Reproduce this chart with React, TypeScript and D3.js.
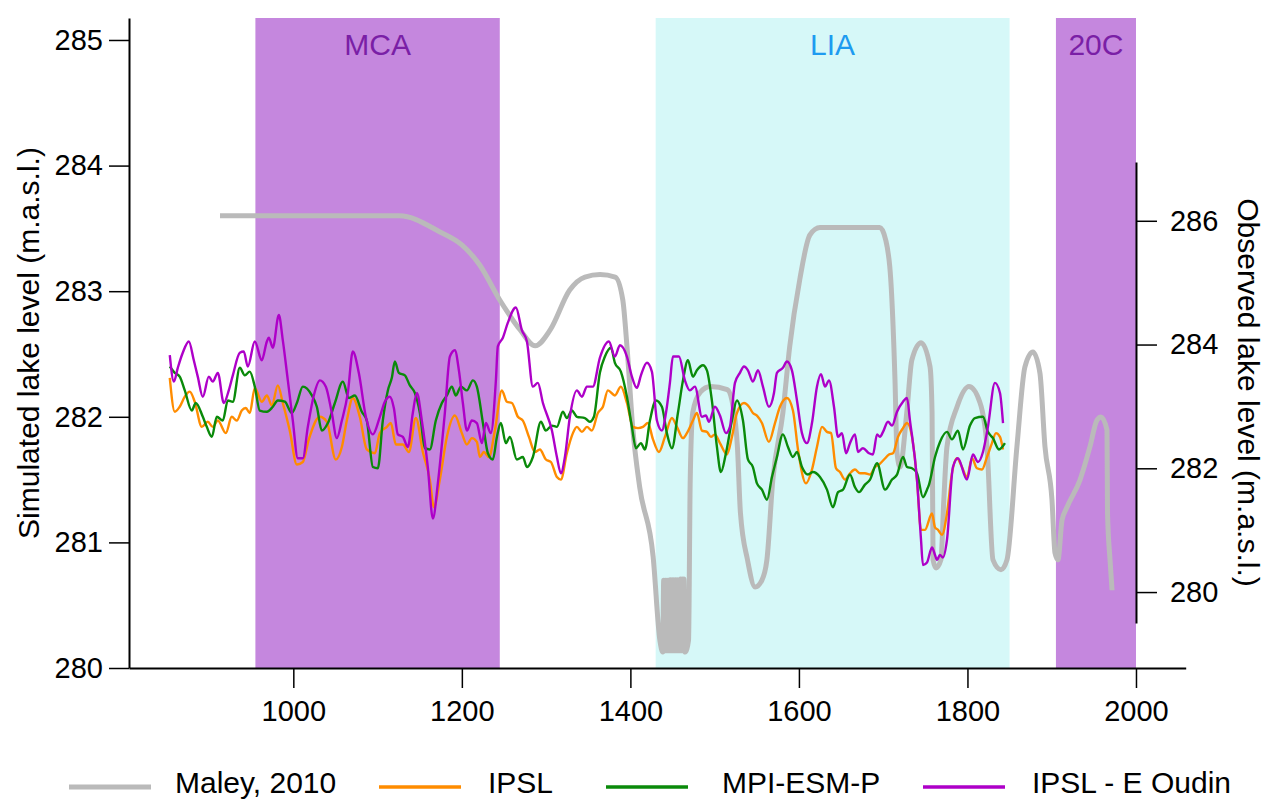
import React, { useEffect, useRef } from 'react';
import * as d3 from 'd3';

type P = [number, number];

// ---------- data ----------
const xTickValues = [1000, 1200, 1400, 1600, 1800, 2000];
const leftTickValues = [280, 281, 282, 283, 284, 285];
const rightTickValues = [280, 282, 284, 286];

const periodNames = ['MCA', 'LIA', '20C'];
const periodStarts = [955, 1430, 1905];
const periodEnds = [1245, 1850, 2000];

const seriesNames = ['Maley, 2010', 'IPSL', 'MPI-ESM-P', 'IPSL - E Oudin'];

// Observed lake level (right axis)
const maley: P[] = [
  [913, 286.08], [1126, 286.08], [1174, 285.82], [1200, 285.61], [1221, 285.29], [1245, 284.72],
  [1269, 284.24], [1287, 283.98], [1305, 284.24], [1328, 284.88], [1346, 285.09], [1364, 285.13],
  [1382, 285.09], [1391, 284.72], [1396, 283.96], [1403, 282.62], [1411, 281.7], [1427, 280.57],
  [1435, 279.22], [1438.5, 279.03],
  [1439.5, 280.19], [1440.5, 279.05], [1441.5, 280.19], [1442.5, 279.05], [1443.5, 280.19],
  [1444.5, 279.05], [1445.5, 280.19], [1446.5, 279.05], [1447.5, 280.2], [1448.5, 279.05],
  [1449.5, 280.2], [1450.5, 279.05], [1451.5, 280.2], [1452.5, 279.05], [1453.5, 280.2],
  [1454.5, 279.05], [1455.5, 280.2], [1456.5, 279.05], [1457.5, 280.2], [1458.5, 279.05],
  [1459.5, 280.21], [1460.5, 279.05], [1461.5, 280.21], [1462.5, 279.05], [1463.5, 280.21],
  [1465, 279.03], [1469, 279.22], [1471, 281.81], [1474, 282.9], [1483, 283.23], [1495, 283.32],
  [1515, 283.27], [1522, 282.99], [1527, 282.35], [1530.6, 281.28], [1539, 280.52], [1548, 280.08],
  [1556, 280.19], [1562, 280.52], [1569, 281.81], [1581, 282.9], [1589, 283.96], [1601, 285.05],
  [1613, 285.77], [1625, 285.89], [1696, 285.89], [1703, 285.69], [1709, 285.05], [1714, 283.43],
  [1716.4, 282.25], [1720, 282.02], [1728, 282.9], [1734, 283.75], [1745, 284.03], [1755.6, 283.64],
  [1758, 282.9], [1759.2, 280.52], [1762.7, 280.39], [1768.5, 280.52], [1772, 281.5], [1775.7, 282.35],
  [1787.6, 282.99], [1801.8, 283.32], [1814.9, 283.06], [1823.2, 282.35], [1830.3, 280.52],
  [1839.8, 280.36], [1846.9, 280.52], [1858.7, 282.35], [1868.2, 283.64], [1877.7, 283.88],
  [1886, 283.54], [1892, 282.35], [1900.3, 281.49], [1903.9, 280.63], [1907.4, 280.52],
  [1912.2, 281.16], [1918.1, 281.37], [1933.5, 281.81], [1945.4, 282.35], [1953.7, 282.78],
  [1958.5, 282.83], [1965.6, 282.62], [1966.2, 281.28], [1969.2, 280.52], [1971.6, 280.03],
];

// Simulated lake level (left axis)
const ipsl: P[] = [
  [853.4, 282.31], [859.3, 282.04], [865.2, 282.08], [871.2, 282.16], [877.1, 282.2], [883.0, 282.12],
  [891.4, 281.92], [898.5, 281.96], [904.4, 281.92], [910.4, 281.97], [919.9, 281.87], [926.9, 282.0],
  [932.9, 281.97], [938.8, 282.05], [943.6, 282.07], [948.3, 282.03], [954.3, 282.23], [962.6, 282.12],
  [968.6, 282.17], [974.5, 282.09], [981.6, 282.25], [987.5, 282.11], [995.8, 281.89], [1004.2, 281.62],
  [1011.3, 281.64], [1018.4, 281.82], [1031.5, 282.0], [1039.8, 281.96], [1050.4, 281.66], [1057.6, 281.76],
  [1063.5, 281.97], [1070.6, 282.15], [1078.9, 282.0], [1087.2, 281.74], [1096.7, 281.71], [1102.7, 281.87],
  [1111.0, 281.92], [1115.7, 281.95], [1121.7, 281.78], [1130.0, 281.78], [1137.1, 281.72], [1145.4, 281.99],
  [1153.7, 281.72], [1162.0, 281.5], [1166.8, 281.28], [1173.9, 281.5], [1182.2, 281.84], [1191.7, 282.01],
  [1200.0, 281.87], [1206.0, 281.78], [1211.9, 281.83], [1217.8, 281.8], [1221.4, 281.68], [1226.1, 281.72],
  [1232.1, 281.68], [1239.2, 281.89], [1247.5, 282.21], [1253.4, 282.12], [1259.4, 282.11], [1266.5, 282.0],
  [1272.4, 281.97], [1279.6, 281.84], [1286.7, 281.72], [1292.6, 281.74], [1299.7, 281.66], [1305.7, 281.64],
  [1312.8, 281.52], [1317.5, 281.5], [1324.6, 281.71], [1331.8, 281.87], [1336.5, 281.92], [1342.5, 281.88],
  [1348.4, 281.92], [1354.3, 281.89], [1361.4, 282.03], [1367.4, 282.08], [1373.3, 282.21], [1381.6, 282.17],
  [1388.7, 282.24], [1395.9, 282.11], [1403.0, 281.92], [1409.0, 281.91], [1414.9, 281.92], [1420.8, 281.95],
  [1426.8, 281.82], [1433.9, 281.72], [1441.0, 281.84], [1449.3, 281.99], [1455.2, 281.92], [1462.4, 281.83],
  [1467.1, 281.87], [1474.2, 281.97], [1478.9, 282.03], [1484.9, 281.89], [1490.8, 281.88], [1495.6, 281.84],
  [1500.3, 281.86], [1506.3, 281.79], [1514.6, 281.7], [1520.5, 281.84], [1526.4, 282.03], [1534.8, 282.11],
  [1540.7, 282.08], [1545.4, 282.03], [1550.2, 282.01], [1556.1, 281.95], [1564.4, 281.8], [1571.6, 281.95],
  [1577.5, 282.08], [1585.8, 282.15], [1592.9, 282.05], [1598.9, 281.74], [1608.4, 281.47], [1615.5, 281.58],
  [1621.4, 281.76], [1627.4, 281.92], [1633.3, 281.88], [1638.1, 281.87], [1644.0, 281.59], [1648.7, 281.56],
  [1654.7, 281.5], [1660.6, 281.55], [1666.5, 281.58], [1672.5, 281.55], [1678.4, 281.55], [1684.4, 281.54],
  [1690.3, 281.6], [1695.1, 281.62], [1701.0, 281.66], [1706.9, 281.7], [1711.7, 281.71], [1717.6, 281.84],
  [1723.5, 281.91], [1728.3, 281.95], [1734.2, 281.84], [1740.1, 281.5], [1744.9, 281.1], [1749.6, 281.1],
  [1757.9, 281.23], [1761.5, 281.12], [1765.1, 281.1], [1769.8, 281.06], [1775.7, 281.23], [1781.6, 281.55],
  [1787.6, 281.67], [1793.5, 281.6], [1799.4, 281.52], [1805.4, 281.67], [1811.3, 281.59], [1817.2, 281.58],
  [1823.2, 281.68], [1829.1, 281.79], [1833.8, 281.87], [1838.6, 281.84], [1842.2, 281.74],
];

const mpi: P[] = [
  [853.4, 282.4], [859.3, 282.35], [865.2, 282.32], [871.2, 282.21], [879.5, 282.05], [884.2, 282.11],
  [892.6, 282.0], [897.3, 281.92], [903.3, 281.84], [909.2, 282.0], [916.3, 281.97], [922.3, 282.13],
  [928.2, 282.12], [936.5, 282.39], [942.4, 282.33], [948.3, 282.36], [954.3, 282.24], [960.2, 282.05],
  [968.6, 282.04], [975.7, 282.08], [981.6, 282.13], [989.9, 282.12], [998.2, 282.03], [1004.2, 282.11],
  [1011.3, 282.24], [1022.0, 282.17], [1027.9, 282.08], [1033.8, 281.89], [1041.0, 281.95], [1049.3, 282.11],
  [1058.8, 282.28], [1065.9, 282.15], [1073.0, 282.17], [1081.3, 282.04], [1087.2, 281.97], [1094.4, 281.6],
  [1100.3, 281.59], [1106.2, 281.97], [1112.2, 282.21], [1116.9, 282.31], [1120.5, 282.44], [1125.2, 282.35],
  [1132.4, 282.33], [1138.3, 282.25], [1144.2, 282.19], [1150.2, 282.03], [1156.1, 281.75], [1162.0, 281.74],
  [1169.1, 281.97], [1176.3, 282.11], [1182.2, 282.17], [1188.1, 282.24], [1192.9, 282.17], [1198.8, 282.24],
  [1206.0, 282.21], [1213.1, 282.29], [1217.8, 282.24], [1225.0, 281.95], [1230.9, 281.71], [1236.8, 281.66],
  [1241.6, 281.84], [1246.3, 281.95], [1252.2, 281.79], [1257.0, 281.84], [1265.3, 281.66], [1272.4, 281.68],
  [1277.2, 281.6], [1284.3, 281.68], [1293.8, 281.96], [1299.7, 281.89], [1306.9, 281.93], [1312.8, 281.92],
  [1319.9, 282.04], [1324.6, 281.99], [1330.6, 282.05], [1336.5, 282.0], [1346.0, 281.99], [1351.9, 281.96],
  [1356.7, 282.0], [1363.8, 282.35], [1369.8, 282.48], [1376.9, 282.55], [1381.6, 282.43], [1388.7, 282.36],
  [1395.9, 282.16], [1401.8, 281.92], [1406.6, 281.75], [1412.5, 281.79], [1417.2, 281.74], [1423.2, 281.97],
  [1430.3, 282.13], [1437.4, 282.08], [1443.3, 281.87], [1449.3, 281.75], [1456.4, 282.03], [1462.4, 282.29],
  [1468.3, 282.45], [1474.2, 282.32], [1478.9, 282.37], [1486.1, 282.41], [1490.8, 282.37], [1496.7, 282.13],
  [1502.7, 281.76], [1507.4, 281.56], [1513.4, 281.71], [1520.5, 281.97], [1526.4, 282.13], [1533.6, 281.97],
  [1539.5, 281.66], [1545.4, 281.6], [1550.2, 281.47], [1556.1, 281.42], [1562.1, 281.34], [1568.0, 281.52],
  [1573.9, 281.68], [1581.0, 281.86], [1587.0, 281.76], [1592.9, 281.68], [1597.7, 281.72], [1603.6, 281.6],
  [1610.7, 281.54], [1616.7, 281.56], [1625.0, 281.52], [1633.3, 281.42], [1640.4, 281.28], [1646.4, 281.4],
  [1652.3, 281.42], [1660.6, 281.54], [1666.5, 281.44], [1671.3, 281.4], [1678.4, 281.46], [1684.4, 281.5],
  [1692.7, 281.63], [1702.2, 281.42], [1710.5, 281.5], [1716.4, 281.54], [1723.5, 281.68], [1728.3, 281.6],
  [1734.2, 281.59], [1740.1, 281.55], [1747.2, 281.36], [1752.0, 281.42], [1754.4, 281.46], [1761.5, 281.68],
  [1767.4, 281.8], [1775.7, 281.88], [1781.6, 281.82], [1788.7, 281.89], [1794.7, 281.74], [1803.0, 281.93],
  [1808.9, 281.99], [1818.4, 282.0], [1824.3, 281.88], [1830.3, 281.83], [1837.4, 281.74], [1844.5, 281.79],
];

const ipslOudin: P[] = [
  [853.4, 282.49], [858.2, 282.28], [862.9, 282.39], [868.8, 282.51], [876.0, 282.6], [881.9, 282.45],
  [886.6, 282.32], [892.6, 282.16], [899.7, 282.32], [904.4, 282.28], [910.4, 282.35], [917.5, 282.11],
  [923.4, 282.21], [928.2, 282.33], [936.5, 282.51], [941.2, 282.52], [946.0, 282.4], [954.3, 282.6],
  [962.6, 282.45], [968.6, 282.6], [970.9, 282.63], [975.7, 282.55], [982.8, 282.81], [987.5, 282.61],
  [993.5, 282.29], [999.4, 281.97], [1005.3, 281.67], [1011.3, 281.67], [1017.2, 281.92], [1024.3, 282.17],
  [1031.5, 282.29], [1038.6, 282.24], [1045.7, 282.03], [1051.6, 281.83], [1057.6, 281.97], [1064.7, 282.19],
  [1070.6, 282.52], [1077.7, 282.35], [1086.1, 282.0], [1094.4, 281.86], [1102.7, 282.0], [1108.6, 282.12],
  [1114.5, 282.16], [1119.3, 282.07], [1124.0, 281.86], [1130.0, 281.84], [1135.9, 281.76], [1141.8, 282.03],
  [1146.6, 282.19], [1152.5, 281.97], [1159.6, 281.6], [1165.6, 281.19], [1171.5, 281.47], [1179.8, 282.03],
  [1185.8, 282.48], [1191.7, 282.53], [1196.5, 282.37], [1201.2, 282.11], [1206.0, 281.89], [1211.9, 281.97],
  [1217.8, 281.95], [1223.8, 281.79], [1228.5, 281.95], [1234.4, 281.87], [1240.4, 282.29], [1242.7, 282.56],
  [1248.7, 282.63], [1254.6, 282.75], [1264.1, 282.87], [1271.2, 282.69], [1277.2, 282.6], [1284.3, 282.24],
  [1290.2, 282.27], [1296.2, 282.11], [1306.9, 281.89], [1312.8, 281.68], [1317.5, 281.55], [1322.3, 281.68],
  [1328.2, 282.0], [1336.5, 282.21], [1342.5, 282.16], [1348.4, 282.24], [1355.5, 282.24], [1363.8, 282.47],
  [1374.5, 282.6], [1381.6, 282.48], [1387.6, 282.57], [1395.9, 282.48], [1401.8, 282.32], [1407.7, 282.23],
  [1412.5, 282.33], [1419.6, 282.43], [1425.5, 282.36], [1431.5, 281.97], [1437.4, 281.89], [1442.2, 282.03],
  [1446.9, 282.27], [1450.5, 282.48], [1457.6, 282.48], [1464.7, 282.29], [1470.6, 282.21], [1476.6, 282.24],
  [1484.9, 282.0], [1489.6, 282.01], [1493.2, 281.96], [1500.3, 282.08], [1506.3, 282.01], [1513.4, 281.87],
  [1518.1, 281.92], [1524.1, 282.27], [1530.0, 282.35], [1534.8, 282.4], [1539.5, 282.37], [1545.4, 282.28],
  [1551.4, 282.37], [1557.3, 282.24], [1564.4, 282.08], [1570.4, 282.19], [1573.9, 282.35], [1581.0, 282.39],
  [1585.8, 282.44], [1591.7, 282.37], [1597.7, 282.13], [1603.6, 281.87], [1609.5, 281.79], [1615.5, 281.95],
  [1621.4, 282.24], [1626.2, 282.34], [1630.9, 282.24], [1635.7, 282.29], [1641.6, 282.08], [1646.4, 281.84],
  [1651.1, 281.87], [1655.9, 281.71], [1660.6, 281.79], [1666.5, 281.86], [1670.1, 281.72], [1676.0, 281.75],
  [1683.2, 281.71], [1687.9, 281.7], [1692.7, 281.86], [1696.2, 281.84], [1699.8, 281.88], [1705.7, 281.96],
  [1710.5, 281.93], [1716.4, 282.04], [1723.5, 282.12], [1728.3, 282.15], [1731.8, 281.97], [1740.1, 281.5],
  [1744.9, 281.02], [1747.2, 280.82], [1752.0, 280.84], [1757.9, 280.96], [1761.5, 280.9], [1763.8, 280.86],
  [1767.4, 280.9], [1770.9, 280.88], [1775.7, 281.02], [1782.8, 281.6], [1788.7, 281.67], [1799.4, 281.5],
  [1806.5, 281.7], [1812.5, 281.64], [1818.4, 281.72], [1824.3, 281.92], [1832.6, 282.27], [1838.6, 282.19],
  [1842.2, 281.95],
];

// ---------- styles ----------
const FONT = '"Liberation Sans", Arial, Helvetica, sans-serif';
const bandFill = ['#C587DE', '#D6F8F8', '#C587DE'];
const bandText = ['#7A1FA6', '#1E9BF0', '#7A1FA6'];
const lineColors = ['#BABABA', '#FF8C00', '#0A8A0A', '#AE00C8'];
const legendLineX = [69, 379, 606, 923];
const legendTextX = [175, 488, 722, 1032];

export default function App() {
  const ref = useRef<SVGSVGElement>(null);

  useEffect(() => {
    const svg = d3.select(ref.current);
    svg.selectAll('*').remove();

    const x = d3.scaleLinear().domain([805, 2059]).range([129, 1185.7]);
    const yL = d3.scaleLinear().domain([280, 285.175]).range([668, 18]);
    const yR = d3.scaleLinear().domain([279.5, 286.95]).range([623, 162]);

    // bands
    const bands = svg.append('g');
    periodNames.forEach((name, i) => {
      bands.append('rect')
        .attr('x', x(periodStarts[i]))
        .attr('y', yL(285.175))
        .attr('width', x(periodEnds[i]) - x(periodStarts[i]))
        .attr('height', yL(280) - yL(285.175))
        .attr('fill', bandFill[i]);
      bands.append('text')
        .attr('x', x((periodStarts[i] + periodEnds[i]) / 2))
        .attr('y', 55)
        .attr('text-anchor', 'middle')
        .attr('font-family', FONT)
        .attr('font-size', 30)
        .attr('fill', bandText[i])
        .text(name);
    });

    // lines
    const lineR = d3.line<P>().x(d => x(d[0])).y(d => yR(d[1])).curve(d3.curveMonotoneX);
    const lineL = d3.line<P>().x(d => x(d[0])).y(d => yL(d[1])).curve(d3.curveMonotoneX);

    svg.append('path').attr('d', lineR(maley) as string)
      .attr('fill', 'none').attr('stroke', lineColors[0]).attr('stroke-width', 5)
      .attr('stroke-linejoin', 'round');

    [ipsl, mpi, ipslOudin].forEach((s, i) => {
      svg.append('path').attr('d', lineL(s) as string)
        .attr('fill', 'none').attr('stroke', lineColors[i + 1]).attr('stroke-width', 2.4)
        .attr('stroke-linejoin', 'round');
    });

    const styleAxis = (g: d3.Selection<SVGGElement, unknown, null, undefined>) => {
      g.select('.domain').attr('stroke', '#000').attr('stroke-width', 2);
      g.selectAll('.tick line').attr('stroke', '#000').attr('stroke-width', 1.5);
      g.selectAll('.tick text').attr('font-family', FONT).attr('font-size', 29).attr('fill', '#000');
    };

    // axes
    svg.append('g').attr('transform', 'translate(0,668)')
      .call(d3.axisBottom(x).tickValues(xTickValues).tickSize(20).tickSizeOuter(0).tickPadding(12).tickFormat(d3.format('d')))
      .call(styleAxis as any);

    svg.append('g').attr('transform', 'translate(129,0)')
      .call(d3.axisLeft(yL).tickValues(leftTickValues).tickSize(20).tickSizeOuter(0).tickPadding(6).tickFormat(d3.format('d')))
      .call(styleAxis as any);

    svg.append('g').attr('transform', `translate(${x(2000)},0)`)
      .call(d3.axisRight(yR).tickValues(rightTickValues).tickSize(21).tickSizeOuter(0).tickPadding(13).tickFormat(d3.format('d')))
      .call(styleAxis as any);

    // axis titles
    svg.append('text')
      .attr('transform', `translate(28,${(yL(280) + yL(285.175)) / 2}) rotate(-90)`)
      .attr('text-anchor', 'middle').attr('dominant-baseline', 'central')
      .attr('font-family', FONT).attr('font-size', 30).attr('fill', '#000')
      .text('Simulated lake level (m.a.s.l.)');

    svg.append('text')
      .attr('transform', `translate(1248,${(yR(279.5) + yR(286.95)) / 2}) rotate(90)`)
      .attr('text-anchor', 'middle').attr('dominant-baseline', 'central')
      .attr('font-family', FONT).attr('font-size', 30).attr('fill', '#000')
      .text('Observed lake level (m.a.s.l.)');

    // legend
    const lg = svg.append('g');
    seriesNames.forEach((name, i) => {
      lg.append('line')
        .attr('x1', legendLineX[i]).attr('x2', legendLineX[i] + 82)
        .attr('y1', 787).attr('y2', 787)
        .attr('stroke', lineColors[i]).attr('stroke-width', i === 0 ? 5 : 3.5);
      lg.append('text')
        .attr('x', legendTextX[i]).attr('y', 793)
        .attr('font-family', FONT).attr('font-size', 30).attr('fill', '#000')
        .text(name);
    });
  }, []);

  return (
    <svg ref={ref} width={1264} height={800}
      style={{ position: 'absolute', left: 0, top: 0, background: '#fff' }} />
  );
}
